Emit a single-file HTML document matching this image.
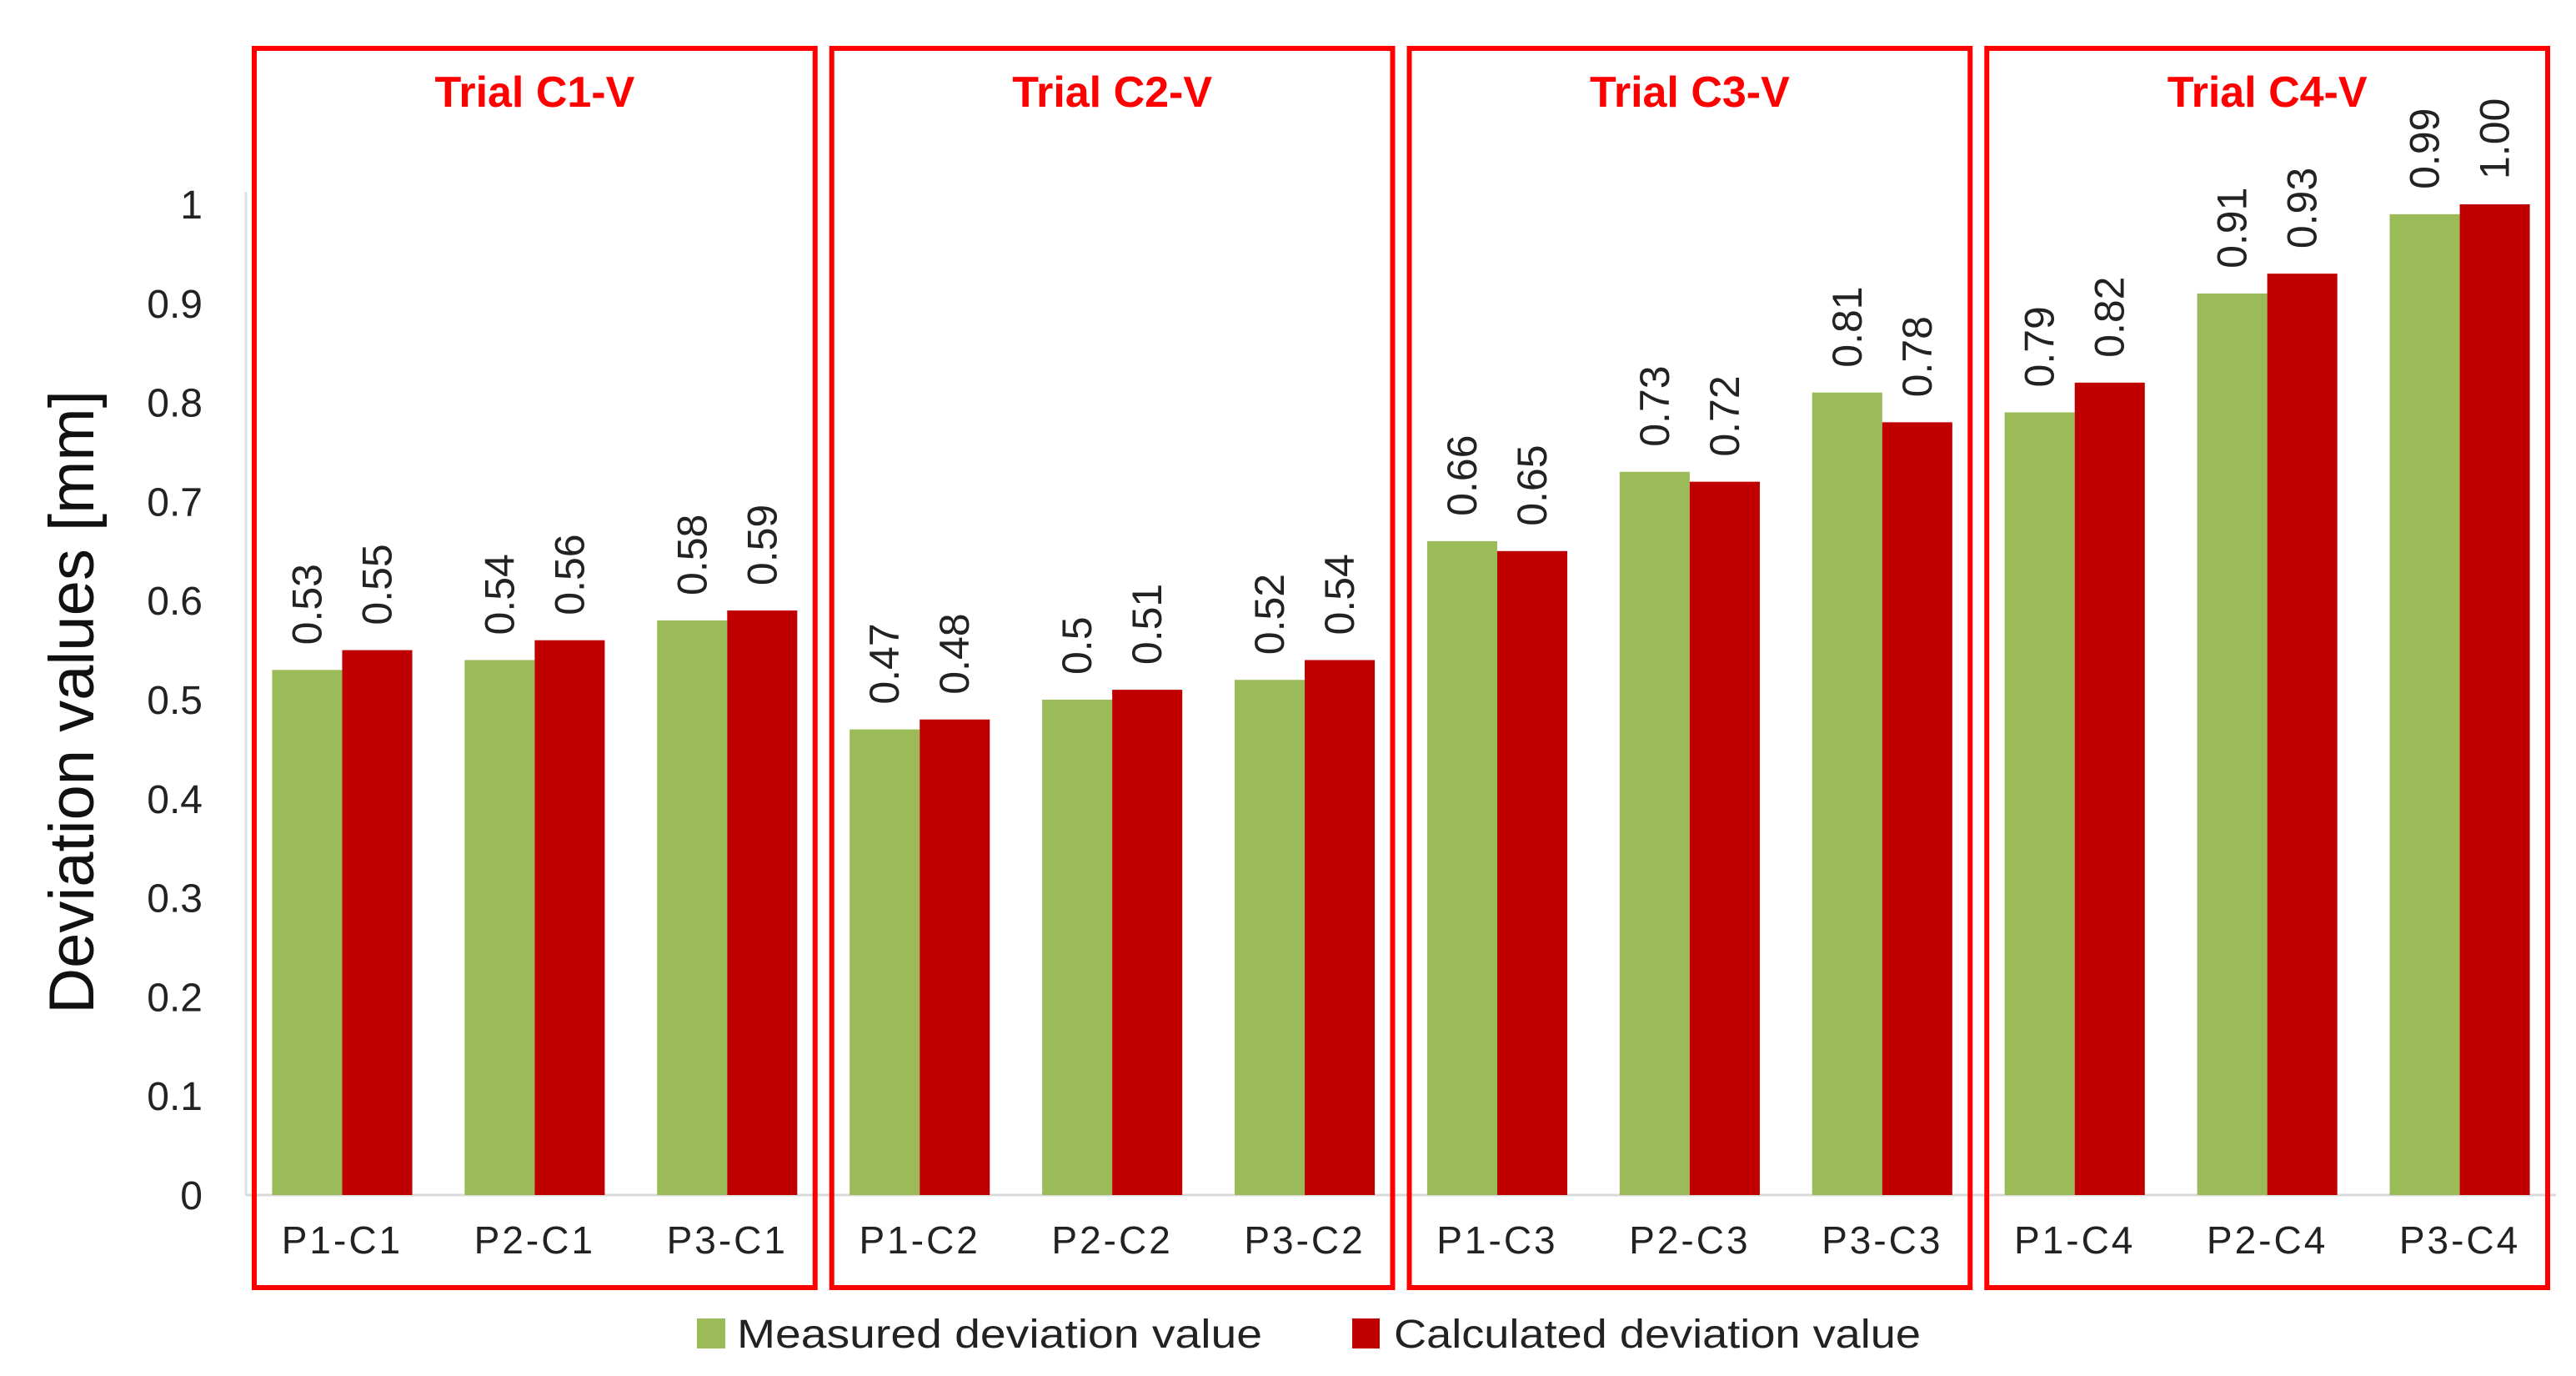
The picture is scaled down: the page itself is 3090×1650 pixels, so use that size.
<!DOCTYPE html>
<html><head><meta charset="utf-8"><style>
html,body{margin:0;padding:0;background:#fff;}
svg{display:block;font-family:"Liberation Sans",sans-serif;}
</style></head><body>
<svg id="chart" width="3090" height="1650" viewBox="0 0 3090 1650" xmlns="http://www.w3.org/2000/svg"></svg>
<script>
const categories = ["P1-C1","P2-C1","P3-C1","P1-C2","P2-C2","P3-C2","P1-C3","P2-C3","P3-C3","P1-C4","P2-C4","P3-C4"];
const measured = [0.53,0.54,0.58,0.47,0.5,0.52,0.66,0.73,0.81,0.79,0.91,0.99];
const calculated = [0.55,0.56,0.59,0.48,0.51,0.54,0.65,0.72,0.78,0.82,0.93,1.00];
const measuredLabels = ["0.53","0.54","0.58","0.47","0.5","0.52","0.66","0.73","0.81","0.79","0.91","0.99"];
const calculatedLabels = ["0.55","0.56","0.59","0.48","0.51","0.54","0.65","0.72","0.78","0.82","0.93","1.00"];
const yTicks = [0,0.1,0.2,0.3,0.4,0.5,0.6,0.7,0.8,0.9,1];
const yTickLabels = ["0","0.1","0.2","0.3","0.4","0.5","0.6","0.7","0.8","0.9","1"];
const trials = ["Trial C1-V","Trial C2-V","Trial C3-V","Trial C4-V"];

const NS="http://www.w3.org/2000/svg";
const svg=document.getElementById('chart');
const X0=295, X1=3066, Y0=1433, Y1=245;
const catW=(X1-X0)/categories.length;
const barW=catW*0.364;
function xCat(i){return X0+catW*(i+0.5);}
function yVal(v){return Y0-(v-0)*(Y0-Y1)/1;}
function el(tag,attrs,parent){const e=document.createElementNS(NS,tag);for(const k in attrs)e.setAttribute(k,attrs[k]);(parent||svg).appendChild(e);return e;}

const ya=el('line',{x1:X0,y1:Y1-15,x2:X0,y2:Y0,stroke:'#e0e0e0','stroke-width':3});


const xa=el('line',{x1:X0,y1:Y0,x2:X1,y2:Y0,stroke:'#d9d9d9','stroke-width':3});



yTicks.forEach((t,i)=>{
  const tx=el('text',{x:243,y:yVal(t)+17,'text-anchor':'end','font-size':48,fill:'#222'});
  tx.textContent=yTickLabels[i];
  
  
});

const yt=el('text',{x:0,y:0,'text-anchor':'middle','font-size':76,fill:'#111',transform:'translate(112,842) rotate(-90)'});
yt.textContent='Deviation values [mm]';



categories.forEach((c,i)=>{
  const cx=xCat(i);
  const gb=el('rect',{x:cx-barW,y:yVal(measured[i]),width:barW,height:Y0-yVal(measured[i]),fill:'#9BBB59'});
  
  
  const rb=el('rect',{x:cx,y:yVal(calculated[i]),width:barW,height:Y0-yVal(calculated[i]),fill:'#C00000'});
  
  
  const gx=cx-barW/2+17, gy=yVal(measured[i])-30;
  const gl=el('text',{x:0,y:0,'font-size':50,fill:'#222',transform:`translate(${gx},${gy}) rotate(-90)`});
  gl.textContent=measuredLabels[i];
  
  
  const rx=cx+barW/2+17, ry=yVal(calculated[i])-30;
  const rl=el('text',{x:0,y:0,'font-size':50,fill:'#222',transform:`translate(${rx},${ry}) rotate(-90)`});
  rl.textContent=calculatedLabels[i];
  
  
  const cl=el('text',{x:cx,y:1503,'text-anchor':'middle','font-size':46,fill:'#222','letter-spacing':3});
  cl.textContent=c;
  
  
});

trials.forEach((t,k)=>{
  const left=X0+catW*3*k+10, right=X0+catW*3*(k+1)-10;
  const b=el('rect',{x:left,y:58,width:right-left,height:1486,fill:'none',stroke:'#FF0000','stroke-width':6});
  
  
  const tt=el('text',{x:(left+right)/2,y:128,'text-anchor':'middle','font-size':52,'font-weight':'bold',fill:'#FF0000'});
  tt.textContent=t;
  
  
});

const lg=el('g',{});


const s1=el('rect',{x:836,y:1581,width:34,height:36,fill:'#9BBB59'},lg);


const t1=el('text',{x:884,y:1616,'font-size':48,fill:'#222',textLength:630,lengthAdjust:'spacingAndGlyphs'},lg);
t1.textContent='Measured deviation value';


const s2=el('rect',{x:1622,y:1581,width:33,height:36,fill:'#C00000'},lg);


const t2=el('text',{x:1672,y:1616,'font-size':48,fill:'#222',textLength:632,lengthAdjust:'spacingAndGlyphs'},lg);
t2.textContent='Calculated deviation value';


</script>
</body></html>
